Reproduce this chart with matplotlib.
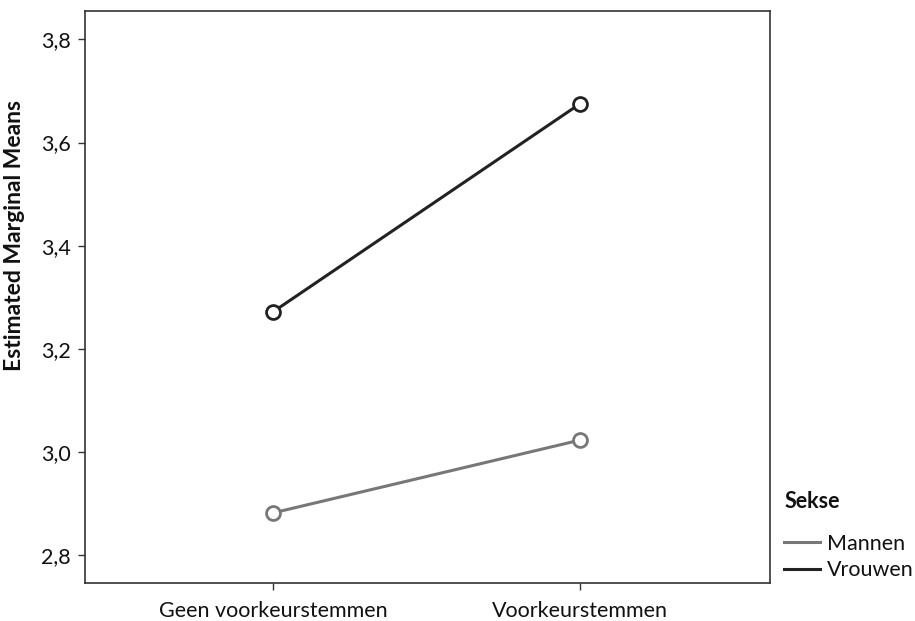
import matplotlib
matplotlib.use("Agg")
import matplotlib.pyplot as plt
from matplotlib.lines import Line2D

categories = ["Geen voorkeurstemmen", "Voorkeurstemmen"]
mannen = [2.882, 3.023]
vrouwen = [3.272, 3.675]
yticks = [2.8, 3.0, 3.2, 3.4, 3.6, 3.8]
ytick_labels = ["2,8", "3,0", "3,2", "3,4", "3,6", "3,8"]
series_names = ["Mannen", "Vrouwen"]

plt.rcParams['font.family'] = ['Lato', 'DejaVu Sans']

W, H = 915, 621
fig = plt.figure(figsize=(W/100, H/100), dpi=100)
ax = fig.add_axes([85/W, 1-583/H, (770-85)/W, (583-11)/H])

x = list(range(len(categories)))
c_m = "#777777"
c_v = "#222222"
ax.plot(x, mannen, color=c_m, lw=2.2, marker='o', ms=10, mfc='white', mec=c_m, mew=2.0, zorder=3)
ax.plot(x, vrouwen, color=c_v, lw=2.2, marker='o', ms=10, mfc='white', mec=c_v, mew=2.0, zorder=3)

ax.set_xlim(-0.614, 1.62)
ax.set_ylim(2.746, 3.855)
ax.set_xticks(x)
ax.set_xticklabels(categories)
ax.set_yticks(yticks)
ax.set_yticklabels(ytick_labels)
for s in ax.spines.values():
    s.set_color("#333333")
    s.set_linewidth(1.2)
ax.tick_params(axis='both', direction='out', length=5, width=1, color="#333333",
               labelsize=15.5, labelcolor="#111111", pad=5)
ax.tick_params(axis='x', pad=8)
ax.set_ylabel("Estimated Marginal Means", fontsize=16.5, fontweight='bold', color="#111111")
ax.yaxis.set_label_coords((25-85)/685, (583-235.5)/572)

fig.text(785/W, 1-502/H, "Sekse", fontsize=15.5, fontweight='bold', color="#111111",
         ha='left', va='center')

handles = [Line2D([0], [0], color=c_m, lw=2.2), Line2D([0], [0], color=c_v, lw=2.2)]
leg = fig.legend(handles, series_names, loc='upper left',
                 bbox_to_anchor=(784/W, 1-534/H), frameon=False, fontsize=15.5,
                 handlelength=1.65, handletextpad=0.35, labelspacing=0.3,
                 borderpad=0, borderaxespad=0)
for t in leg.get_texts():
    t.set_color("#111111")

fig.savefig("out.png", dpi=100)
